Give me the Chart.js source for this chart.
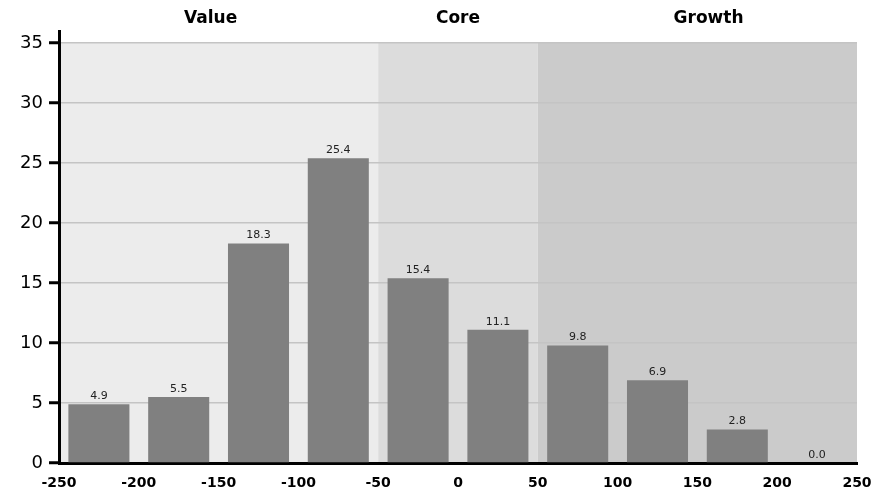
<!DOCTYPE html>
<html>
<head>
<meta charset="utf-8">
<style>
  html, body { margin: 0; padding: 0; background: #fff; }
  #wrap { width: 892px; height: 494px; }
</style>
<script src="https://cdn.jsdelivr.net/npm/chart.js@4.4.1/dist/chart.umd.min.js"></script>
</head>
<body>
<div id="wrap"><canvas id="chart" width="892" height="494"></canvas></div>
<script>
(function () {
    'use strict';

    // bins (centre of each 50-wide bucket) and their share
    var binCenters = [-225, -175, -125, -75, -25, 25, 75, 125, 175, 225];
    var shares = [4.9, 5.5, 18.3, 25.4, 15.4, 11.1, 9.8, 6.9, 2.8, 0.0];
    var yTicks = [0, 5, 10, 15, 20, 25, 30, 35];

    // style bands behind the bars
    var bandNames = ['Value', 'Core', 'Growth'];
    var bandFrom = [-250, -50, 50];
    var bandTo = [-50, 50, 250];
    var bandLabelAt = [-155, 0, 157];
    var bandTop = 35;
    var bandColors = ['#ececec', '#dcdcdc', '#cbcbcb'];

    var FONT = '"DejaVu Sans", Verdana, sans-serif';

    var bands = {
        id: 'bands',
        beforeDraw: function (chart) {
            var ctx = chart.ctx, x = chart.scales.x, y = chart.scales.y;
            ctx.save();
            var yTop = y.getPixelForValue(bandTop), yBot = y.getPixelForValue(0);
            bandNames.forEach(function (n, i) {
                var x0 = x.getPixelForValue(bandFrom[i]), x1 = x.getPixelForValue(bandTo[i]);
                ctx.fillStyle = bandColors[i];
                ctx.fillRect(x0, yTop, x1 - x0, yBot - yTop);
            });
            ctx.restore();
        },
        afterDraw: function (chart) {
            var ctx = chart.ctx, x = chart.scales.x;
            ctx.save();
            ctx.font = 'bold 17px ' + FONT;
            ctx.fillStyle = '#000';
            ctx.textAlign = 'center';
            ctx.textBaseline = 'alphabetic';
            bandNames.forEach(function (n, i) {
                ctx.fillText(n, x.getPixelForValue(bandLabelAt[i]), 23);
            });
            ctx.restore();
        }
    };

    var barLabels = {
        id: 'barLabels',
        afterDatasetsDraw: function (chart) {
            var ctx = chart.ctx;
            var meta = chart.getDatasetMeta(0);
            ctx.save();
            ctx.font = '11px ' + FONT;
            ctx.fillStyle = '#222';
            ctx.textAlign = 'center';
            ctx.textBaseline = 'alphabetic';
            meta.data.forEach(function (bar, i) {
                ctx.fillText(shares[i].toFixed(1), bar.x, bar.y - 5);
            });
            ctx.restore();
        }
    };

    new Chart(document.getElementById('chart').getContext('2d'), {
        type: 'bar',
        data: {
            datasets: [{
                data: binCenters.map(function (c, i) { return { x: c, y: shares[i] }; }),
                backgroundColor: '#808080',
                borderWidth: 0,
                barPercentage: 0.765,
                categoryPercentage: 1
            }]
        },
        plugins: [bands, barLabels],
        options: {
            responsive: false,
            animation: false,
            layout: { padding: { top: 31, right: 35, left: 0, bottom: 0 } },
            plugins: { legend: { display: false }, tooltip: { enabled: false } },
            scales: {
                x: {
                    type: 'linear',
                    min: -250,
                    max: 250,
                    offset: false,
                    grid: { display: false },
                    border: { display: true, color: '#000', width: 3 },
                    ticks: {
                        stepSize: 50,
                        autoSkip: false,
                        maxRotation: 0,
                        padding: 4,
                        color: '#000',
                        font: { family: FONT, size: 14, weight: 'bold' }
                    },
                    afterFit: function (s) { s.height = 31; }
                },
                y: {
                    min: 0,
                    max: 36,
                    grid: {
                        color: '#c4c4c4',
                        lineWidth: 1.5,
                        tickColor: '#000',
                        tickWidth: 3,
                        tickLength: 10
                    },
                    border: { display: true, color: '#000', width: 3 },
                    ticks: {
                        padding: 6,
                        color: '#000',
                        font: { family: FONT, size: 18 }
                    },
                    afterBuildTicks: function (s) {
                        s.ticks = yTicks.map(function (v) { return { value: v }; });
                    },
                    afterFit: function (s) { s.width = 59; }
                }
            }
        }
    });
})();
</script>
</body>
</html>
